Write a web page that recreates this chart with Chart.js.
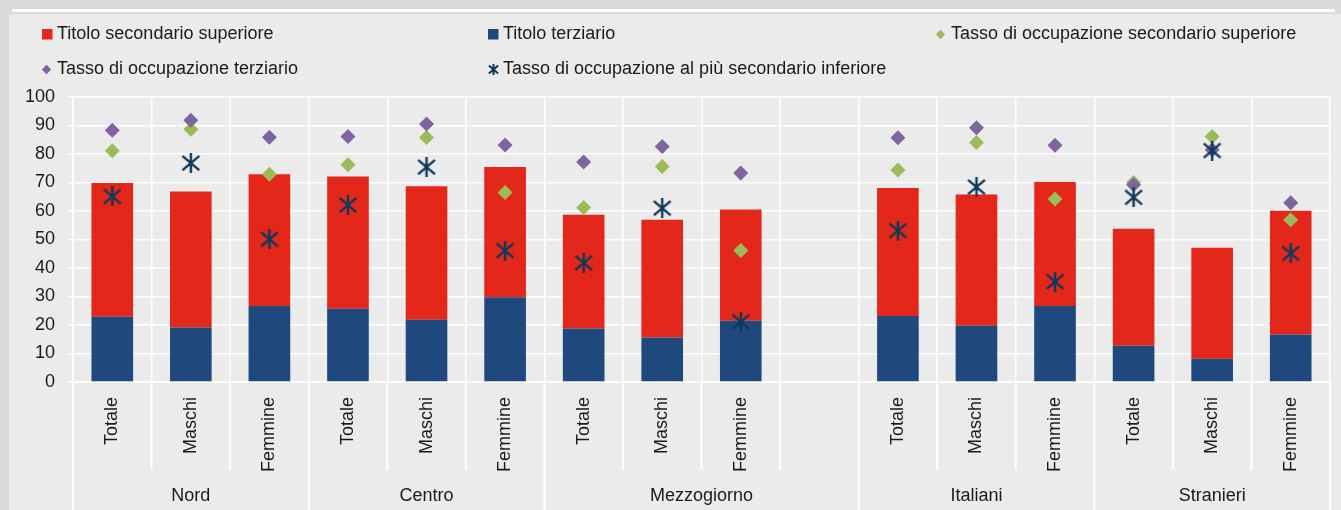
<!DOCTYPE html>
<html>
<head>
<meta charset="utf-8">
<script src="https://cdn.jsdelivr.net/npm/chart.js@4.4.0/dist/chart.umd.min.js"></script>
<style>
html, body { margin: 0; padding: 0; }
body { width: 1341px; height: 510px; background: #d9d9d9; position: relative; overflow: hidden; }
#riga { position: absolute; left: 12px; top: 9px; width: 1323px; height: 3px; background: #fff; }
#pannello { position: absolute; left: 9px; top: 14px; right: 0; bottom: 0; background: #ebebeb; }
canvas { position: absolute; left: 0; top: 0; }
</style>
</head>
<body>
<div id="riga"></div>
<div id="pannello"></div>
<canvas id="grafico" width="1341" height="510"></canvas>
<script>
// categorie (slot vuoto tra Mezzogiorno e Italiani)
const categorie = ['Totale', 'Maschi', 'Femmine', 'Totale', 'Maschi', 'Femmine',
    'Totale', 'Maschi', 'Femmine', '', 'Totale', 'Maschi', 'Femmine',
    'Totale', 'Maschi', 'Femmine'];
const gruppi = ['Nord', 'Centro', 'Mezzogiorno', 'Italiani', 'Stranieri'];
const ampiezzaGruppi = [3, 3, 4, 3, 3];
const tickY = [0, 10, 20, 30, 40, 50, 60, 70, 80, 90, 100];

// barre impilate
const titoloTerziario = [22.9, 19.1, 26.7, 25.7, 21.8, 29.7, 18.8, 15.6, 21.5, null,
    23.2, 19.7, 26.7, 12.7, 8.2, 16.7];
const titoloSecondario = [46.9, 47.7, 46.2, 46.4, 46.9, 45.7, 39.9, 41.3, 39.0, null,
    44.9, 46.1, 43.5, 41.1, 38.9, 43.4];

// tassi di occupazione
const tassoSecondario = [81.1, 88.7, 72.9, 76.2, 85.8, 66.5, 61.2, 75.6, 46.1, null,
    74.4, 84.0, 64.2, 70.0, 86.1, 56.9];
const tassoTerziario = [88.3, 91.8, 85.9, 86.1, 90.5, 83.2, 77.2, 82.6, 73.3, null,
    85.7, 89.2, 83.1, 69.2, 81.5, 62.9];
const tassoInferiore = [65.1, 76.8, 50.1, 62.1, 75.4, 46.1, 41.8, 61.0, 21.1, null,
    53.1, 68.4, 35.2, 64.8, 81.2, 45.1];

const FONT = "'Liberation Sans', Arial, sans-serif";
const SIZE = 18;
const ROSSO = '#e3271a';
const BLU = '#1f497d';
const VERDE = '#9bbb59';
const VIOLA = '#8064a2';
const NAVY = '#0d3a5a';
const TESTO = '#1a1a1a';

function asterisco(lato, spessore){
    let c = document.createElement('canvas');
    c.width = lato;
    c.height = lato;
    let g = c.getContext('2d');
    g.strokeStyle = NAVY;
    g.lineWidth = spessore;
    g.beginPath();
    g.moveTo(lato / 2, 0);
    g.lineTo(lato / 2, lato);
    g.moveTo(lato * 0.08, lato * 0.14);
    g.lineTo(lato * 0.92, lato * 0.86);
    g.moveTo(lato * 0.92, lato * 0.14);
    g.lineTo(lato * 0.08, lato * 0.86);
    g.stroke();
    return c;
}

const stellaGrafico = asterisco(20, 2.4);
const stellaLegenda = asterisco(11, 2);

function rombo(ctx, x, y, r, colore){
    ctx.fillStyle = colore;
    ctx.beginPath();
    ctx.moveTo(x - r, y);
    ctx.lineTo(x, y - r);
    ctx.lineTo(x + r, y);
    ctx.lineTo(x, y + r);
    ctx.closePath();
    ctx.fill();
}

const legendaGriglia = {
    id: 'legendaGriglia',
    afterDraw(chart){
        let ctx = chart.ctx;
        ctx.save();
        ctx.font = SIZE + 'px ' + FONT;
        ctx.textBaseline = 'middle';
        ctx.textAlign = 'left';

        ctx.fillStyle = ROSSO;
        ctx.fillRect(42, 29, 10.5, 10.5);
        ctx.fillStyle = BLU;
        ctx.fillRect(488, 29, 10.5, 10.5);
        rombo(ctx, 940.5, 34.5, 4.7, VERDE);
        rombo(ctx, 46.5, 69.5, 4.7, VIOLA);
        ctx.drawImage(stellaLegenda, 488, 64);

        ctx.fillStyle = TESTO;
        ctx.fillText('Titolo secondario superiore', 57, 34);
        ctx.fillText('Titolo terziario', 503, 34);
        ctx.fillText('Tasso di occupazione secondario superiore', 951, 34);
        ctx.fillText('Tasso di occupazione terziario', 57, 69);
        ctx.fillText('Tasso di occupazione al più secondario inferiore', 503, 69);
        ctx.restore();
    }
};

const assiGruppi = {
    id: 'assiGruppi',
    afterDraw(chart){
        let ctx = chart.ctx;
        let x = chart.scales.x;
        let area = chart.chartArea;
        let fondo = chart.height;
        let confine = (i) => {
            if (i <= 0) return area.left;
            if (i >= categorie.length) return area.right;
            return (x.getPixelForValue(i - 1) + x.getPixelForValue(i)) / 2;
        };
        let inizi = [0];
        ampiezzaGruppi.forEach((n, i) => inizi.push(inizi[i] + n));

        ctx.save();
        ctx.strokeStyle = '#ffffff';
        ctx.lineWidth = 2;
        for (let i = 0; i <= categorie.length; i++) {
            let px = confine(i);
            let pieno = inizi.indexOf(i) !== -1;
            ctx.beginPath();
            ctx.moveTo(px, area.bottom);
            ctx.lineTo(px, pieno ? fondo : area.bottom + 88);
            ctx.stroke();
        }
        ctx.fillStyle = TESTO;
        ctx.font = SIZE + 'px ' + FONT;
        ctx.textAlign = 'center';
        ctx.textBaseline = 'middle';
        gruppi.forEach((g, i) => {
            let cx = (confine(inizi[i]) + confine(inizi[i + 1])) / 2;
            ctx.fillText(g, cx, 496);
        });
        ctx.restore();
    }
};

const data = {
    labels: categorie,
    datasets: [
        {
            type: 'bar',
            label: 'Titolo terziario',
            data: titoloTerziario,
            backgroundColor: BLU,
            stack: 'barre',
            order: 4
        },
        {
            type: 'bar',
            label: 'Titolo secondario superiore',
            data: titoloSecondario,
            backgroundColor: ROSSO,
            stack: 'barre',
            order: 5
        },
        {
            type: 'line',
            label: 'Tasso di occupazione secondario superiore',
            data: tassoSecondario,
            showLine: false,
            pointStyle: 'rectRot',
            pointRadius: 7.5,
            pointBorderWidth: 0,
            pointBackgroundColor: VERDE,
            stack: 'v1',
            order: 3
        },
        {
            type: 'line',
            label: 'Tasso di occupazione terziario',
            data: tassoTerziario,
            showLine: false,
            pointStyle: 'rectRot',
            pointRadius: 7.5,
            pointBorderWidth: 0,
            pointBackgroundColor: VIOLA,
            stack: 'v2',
            order: 2
        },
        {
            type: 'line',
            label: 'Tasso di occupazione al più secondario inferiore',
            data: tassoInferiore,
            showLine: false,
            pointStyle: stellaGrafico,
            pointRadius: 10,
            stack: 'v3',
            order: 1
        }
    ]
};

const config = {
    data: data,
    options: {
        responsive: false,
        animation: false,
        events: [],
        barPercentage: 0.53,
        categoryPercentage: 1,
        layout: {padding: {top: 97, right: 8, left: 0, bottom: 0}},
        plugins: {
            legend: {display: false},
            title: {display: false},
            tooltip: {enabled: false}
        },
        scales: {
            x: {
                stacked: true,
                offset: true,
                grid: {color: '#ffffff', lineWidth: 1.5, drawTicks: false, offset: true},
                border: {color: '#ffffff', width: 2},
                ticks: {
                    color: TESTO,
                    font: {family: FONT, size: SIZE},
                    minRotation: 90,
                    maxRotation: 90,
                    autoSkip: false,
                    padding: 15
                },
                afterFit(scale){ scale.height = 128; }
            },
            y: {
                stacked: true,
                min: 0,
                max: 100,
                afterBuildTicks(scale){ scale.ticks = tickY.map(v => ({value: v})); },
                grid: {color: '#ffffff', lineWidth: 1.5, tickLength: 5},
                border: {color: '#ffffff', width: 2},
                ticks: {
                    color: TESTO,
                    font: {family: FONT, size: SIZE},
                    padding: 13
                },
                afterFit(scale){ scale.width = 73; }
            }
        }
    },
    plugins: [legendaGriglia, assiGruppi]
};

let grafico = new Chart(document.getElementById('grafico'), config);
</script>
</body>
</html>
